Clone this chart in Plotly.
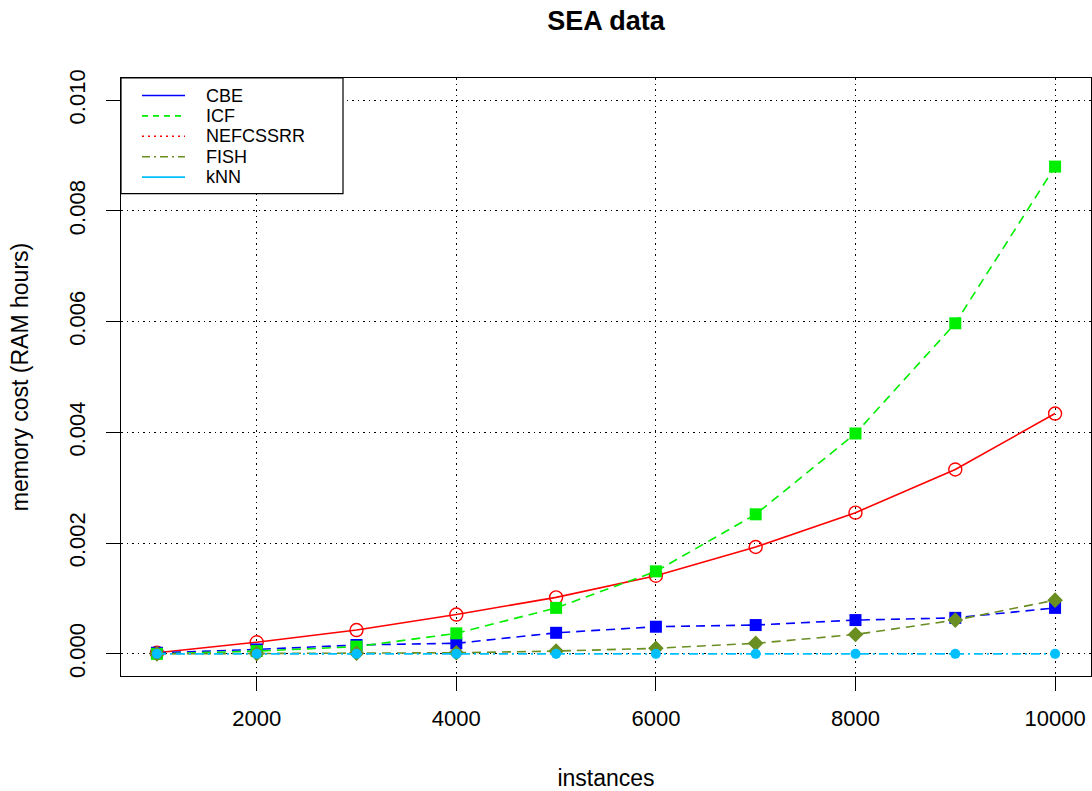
import plotly.graph_objects as go

# ---- data ----
instances = [1000, 2000, 3000, 4000, 5000, 6000, 7000, 8000, 9000, 10000]
cbe = [0.00002, 0.00008, 0.00016, 0.00019, 0.00038, 0.00049, 0.00052, 0.00061, 0.00065, 0.00083]
icf = [0.0, 0.00005, 0.00013, 0.00037, 0.00083, 0.00149, 0.00252, 0.00398, 0.00597, 0.00880]
nefcssrr = [0.00002, 0.00021, 0.00043, 0.00071, 0.00102, 0.00141, 0.00193, 0.00255, 0.00333, 0.00434]
fish = [0.0, 0.000005, 0.00001, 0.00002, 0.00005, 0.00010, 0.00019, 0.00035, 0.00061, 0.00097]
knn = [0.0, 0.0, 0.0, 0.0, 0.0, 0.0, 0.0, 0.0, 0.0, 0.0]

series_names = ["CBE", "ICF", "NEFCSSRR", "FISH", "kNN"]
x_ticks = [2000, 4000, 6000, 8000, 10000]
y_ticks = [0.000, 0.002, 0.004, 0.006, 0.008, 0.010]

# ---- styles ----
W, H = 1092, 791
ML, MR, MT, MB = 121, 1, 78, 115
FONT = "Liberation Sans, Arial, Helvetica, sans-serif"

C_CBE = "#0000FF"
C_ICF = "#00EE00"
C_NEF = "#FF0000"
C_FISH = "#6B8E23"
C_KNN = "#00BFFF"
DASH = "9px,6px"
LW = 1.6

fig = go.Figure()

# drawing order: NEFCSSRR, CBE, ICF, FISH, kNN
fig.add_trace(go.Scatter(
    x=instances, y=nefcssrr, mode="lines+markers", name="NEFCSSRR", showlegend=False,
    line=dict(color=C_NEF, width=LW),
    marker=dict(symbol="circle-open", size=13, color=C_NEF, line=dict(width=1.4, color=C_NEF))))
fig.add_trace(go.Scatter(
    x=instances, y=cbe, mode="lines+markers", name="CBE", showlegend=False,
    line=dict(color=C_CBE, width=LW, dash=DASH),
    marker=dict(symbol="square", size=12, color=C_CBE)))
fig.add_trace(go.Scatter(
    x=instances, y=icf, mode="lines+markers", name="ICF", showlegend=False,
    line=dict(color=C_ICF, width=LW, dash=DASH),
    marker=dict(symbol="square", size=12, color=C_ICF)))
fig.add_trace(go.Scatter(
    x=instances, y=fish, mode="lines+markers", name="FISH", showlegend=False,
    line=dict(color=C_FISH, width=LW, dash=DASH),
    marker=dict(symbol="diamond", size=12, color=C_FISH)))
fig.add_trace(go.Scatter(
    x=instances, y=knn, mode="lines+markers", name="kNN", showlegend=False,
    line=dict(color=C_KNN, width=LW, dash="9px,4px,2px,4px"),
    marker=dict(symbol="circle", size=10, color=C_KNN)))

# ---- legend box (as in the original R legend, top-left inside plot) ----
pw = W - ML - MR
ph = H - MT - MB
def px_x(p):
    return (p - ML) / pw
def px_y(p):
    return (H - MB - p) / ph

legend_styles = [
    (C_CBE, "solid"),
    (C_ICF, "6px,5px"),
    (C_NEF, "2px,4px"),
    (C_FISH, "8px,4px,2px,4px"),
    (C_KNN, "solid"),
]
row_top, row_step = 95.5, 20.4
row_y = [row_top + i * row_step for i in range(len(series_names))]
shapes = [dict(type="rect", xref="paper", yref="paper",
               x0=px_x(121), x1=px_x(343), y0=px_y(row_y[-1] + 16.5), y1=1,
               line=dict(color="black", width=1.2), fillcolor="white", layer="above")]
annotations = []
for name, (col, dash), yy in zip(series_names, legend_styles, row_y):
    shapes.append(dict(type="line", xref="paper", yref="paper",
                       x0=px_x(142), x1=px_x(185), y0=px_y(yy), y1=px_y(yy),
                       line=dict(color=col, width=1.6, dash=dash), layer="above"))
    annotations.append(dict(text=name, xref="paper", yref="paper",
                            x=px_x(204), y=px_y(yy), xanchor="left", yanchor="middle",
                            showarrow=False, font=dict(size=18, color="black", family=FONT)))

fig.update_layout(
    width=W, height=H,
    margin=dict(l=ML, r=MR, t=MT, b=MB, autoexpand=False),
    paper_bgcolor="white", plot_bgcolor="white",
    font=dict(family=FONT, color="black", size=22),
    title=dict(text="<b>SEA data</b>", x=(ML + pw / 2) / W, xanchor="center",
               y=1 - 21 / H, yanchor="middle", yref="container",
               font=dict(size=27, family=FONT, color="black")),
    showlegend=False,
    shapes=shapes,
    annotations=annotations,
)

fig.update_xaxes(
    range=[640, 10360], tickvals=x_ticks, ticktext=[str(v) for v in x_ticks],
    ticks="outside", ticklen=14, tickwidth=1.2, tickcolor="black",
    showline=True, linecolor="black", linewidth=1.2, mirror=True,
    showgrid=True, gridcolor="black", gridwidth=1, griddash="1.5px,4px",
    zeroline=False, tickfont=dict(size=22), ticklabelstandoff=8,
    title=dict(text="instances", font=dict(size=23), standoff=40),
)
fig.update_yaxes(
    range=[-0.0004, 0.0104], tickvals=y_ticks, ticktext=[f"{v:.3f}" for v in y_ticks],
    tickangle=-90,
    ticks="outside", ticklen=14, tickwidth=1.2, tickcolor="black",
    showline=True, linecolor="black", linewidth=1.2, mirror=True,
    showgrid=True, gridcolor="black", gridwidth=1, griddash="1.5px,4px",
    zeroline=False, tickfont=dict(size=22), ticklabelstandoff=12,
    title=dict(text="memory cost (RAM hours)", font=dict(size=23), standoff=30),
)

fig.write_html("out.html")
